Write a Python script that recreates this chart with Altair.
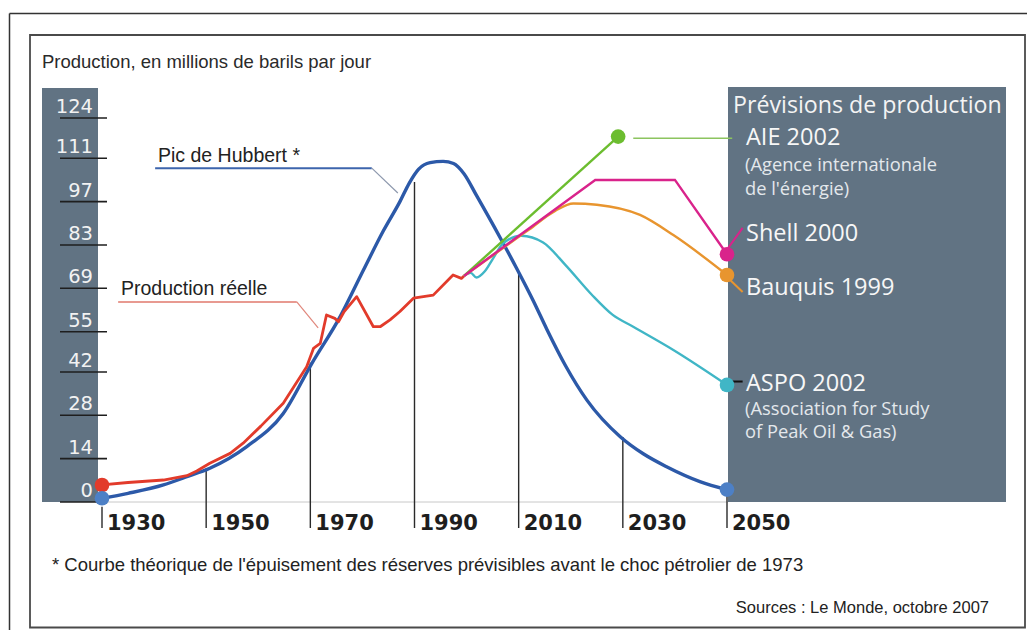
import altair as alt
import pandas as pd

# ---------------- data ----------------
hub_years = [1930, 1935, 1941.8, 1946, 1950.7, 1957.8, 1964.8, 1970.3, 1975.7, 1980.2,
             1984, 1987.2, 1989, 1990.8, 1993, 1995.5, 1997.5, 1999.5, 2001.9, 2006.4,
             2009.6, 2012.8, 2015.4, 2019, 2023.1, 2029.5, 2034, 2038.4, 2044.8, 2050]
hub_values = [1.2, 2.8, 5.5, 8.0, 10.9, 17.9, 28.6, 44.8, 59.8, 74.9,
              87.5, 97.0, 103.0, 107.5, 109.6, 110.0, 109.3, 106.0, 99.0, 85.5,
              75.5, 65.0, 55.8, 44.0, 32.9, 21.1, 15.5, 11.4, 6.6, 4.0]

real_years = [1930, 1935, 1941.8, 1946.3, 1948.2, 1950.7, 1954.6, 1957.1, 1960.5, 1964.8,
              1969.3, 1970.6, 1971.9, 1973.1, 1974.7, 1975.4, 1976.5, 1978.9, 1982.1, 1983.4,
              1985.3, 1987.2, 1989.8, 1993.6, 1997.4, 1999.0, 1999.5]
real_values = [5.5, 6.3, 7.1, 8.5, 10.0, 12.5, 15.7, 19.0, 24.5, 31.9,
               43.7, 49.6, 51.2, 60.4, 59.3, 58.2, 61.5, 66.3, 56.6, 56.6,
               58.8, 61.5, 65.8, 66.8, 73.3, 72.2, 73.0]

aie_years = [1999.5, 2029.1]
aie_values = [73.0, 118.0]
shell_years = [1999.5, 2024.7, 2040.0, 2050.0]
shell_values = [73.0, 104.0, 104.0, 80.0]
bauquis_years = [1999.5, 2012, 2017, 2020.5, 2025, 2033.3, 2039.7, 2050]
bauquis_values = [73.0, 88.0, 94.0, 96.4, 96.0, 92.7, 86.2, 73.3]
aspo_years = [1999.5, 2000.8, 2001.9, 2003.5, 2005.1, 2007, 2010.5, 2014.7, 2019, 2024,
              2028, 2032, 2039.7, 2050]
aspo_values = [73.0, 74.0, 72.5, 74.5, 78.7, 83.5, 86.0, 83.8, 76.5, 67.0,
               60.5, 56.6, 49.1, 37.8]

y_ticks = [0, 14, 28, 42, 55, 69, 83, 97, 111, 124]
x_ticks = [1930, 1950, 1970, 1990, 2010, 2030, 2050]
x_tick_labels = ["1930", "1950", "1970", "1990", "2010", "2030", "2050"]
x_tick_tops = [-1.5, 10.8, 45.0, 103.3, 74.3, 21.0, 2.9]

dot_series = ["real", "hubbert", "aie", "shell", "bauquis", "aspo", "hubbert_end"]
dot_years = [1930, 1930, 2029.1, 2050, 2050, 2050, 2050]
dot_values = [5.5, 1.2, 118.0, 80.0, 73.3, 37.8, 4.0]

title_text = "Production, en millions de barils par jour"
hubbert_label = "Pic de Hubbert *"
real_label = "Production réelle"
panel_title = "Prévisions de production"
panel_labels_big = ["AIE 2002", "Shell 2000", "Bauquis 1999", "ASPO 2002"]
panel_labels_small = ["(Agence internationale", "de l'énergie)",
                      "(Association for Study", "of Peak Oil & Gas)"]
footnote = "* Courbe théorique de l'épuisement des réserves prévisibles avant le choc pétrolier de 1973"
source = "Sources : Le Monde, octobre 2007"

# annotation leader lines (year/value coordinates)
leader_names = ["hub_h", "hub_d", "real_h", "real_d", "aie", "shell", "bauquis", "aspo"]
leader_x = [1940.2, 1981.8, 1933.1, 1967.4, 2032.0, 2050.2, 2050.6, 2051.0]
leader_x2 = [1981.8, 1986.8, 1967.4, 1971.5, 2051.0, 2053.0, 2053.0, 2053.0]
leader_y = [107.8, 107.8, 64.6, 64.6, 117.5, 82.0, 71.7, 38.9]
leader_y2 = [107.8, 99.8, 64.6, 56.2, 117.5, 88.5, 67.8, 38.9]

# ---------------- styling ----------------
W, H = 1019, 622
PANEL = "#617383"
BLUE = "#2c59a8"
BLUE_DOT = "#4d80c6"
RED = "#e23b2b"
GREEN = "#6cbd2f"
MAGENTA = "#d9238b"
ORANGE = "#e8952f"
TEAL = "#40b6c6"

leader_colors = ["#3d65ad", "#8d98ad", "#e0786c", "#e0877c", "#8cc45f", MAGENTA, ORANGE, "#111111"]
leader_widths = [2, 1.2, 1.4, 1.2, 1.5, 2, 2, 2]

xs = alt.Scale(domain=[1930, 2050], range=[94, 719], nice=False, zero=False)
ys = alt.Scale(domain=[0, 124], range=[494, 110], nice=False, zero=False)


def X(field):
    return alt.X(field, type="quantitative", scale=xs, axis=None)


def Y(field):
    return alt.Y(field, type="quantitative", scale=ys, axis=None)


one = pd.DataFrame({"k": [0]})


def box(x, x2, y, y2, **kw):
    return alt.Chart(one).mark_rect(**kw).encode(
        x=alt.value(x), x2=alt.value(x2), y=alt.value(y), y2=alt.value(y2))


def hline(x, x2, y, color, width):
    return alt.Chart(one).mark_rule(color=color, strokeWidth=width).encode(
        x=alt.value(x), x2=alt.value(x2), y=alt.value(y), y2=alt.value(y))


def vline(x, y, y2, color, width):
    return alt.Chart(one).mark_rule(color=color, strokeWidth=width).encode(
        x=alt.value(x), x2=alt.value(x), y=alt.value(y), y2=alt.value(y2))


def label(text, x, y, size, color="#222", font="Liberation Sans", weight="normal",
          align="left"):
    return alt.Chart(pd.DataFrame({"t": [text]})).mark_text(
        align=align, baseline="alphabetic", font=font, fontSize=size,
        fontWeight=weight, color=color).encode(
        x=alt.value(x), y=alt.value(y), text="t:N")


layers = []

# frames
layers.append(vline(1.5, 5.5, H, "#333", 1.5))
layers.append(hline(1.5, W, 5.5, "#333", 1.5))
layers.append(box(22, 1017, 27, 619.5, fillOpacity=0, stroke="#4a4a4a", strokeWidth=1.8))

# grey panels
layers.append(box(34, 90, 80, 494, color=PANEL))
layers.append(box(720, 998, 79, 494, color=PANEL))

# axis baseline
layers.append(hline(90, 720, 494, "#c8c8c8", 1))

# y ticks
yt = pd.DataFrame({"v": y_ticks, "lab": [str(v) for v in y_ticks]})
layers.append(alt.Chart(yt).mark_rule(color="#1e1e1e", strokeWidth=1.6).encode(
    y=Y("v"), x=alt.value(52), x2=alt.value(99)))
layers.append(alt.Chart(yt).mark_text(
    align="right", baseline="alphabetic", dy=-5, font="DejaVu Sans", fontSize=19.5,
    color="#f2f2f2").encode(y=Y("v"), x=alt.value(85), text="lab:N"))

# x ticks: drop lines from the Hubbert curve + labels
xt = pd.DataFrame({"yr": x_ticks, "top": x_tick_tops, "lab": x_tick_labels})
layers.append(alt.Chart(xt).mark_rule(color="#2a2a2a", strokeWidth=1.4).encode(
    x=X("yr"), y=Y("top"), y2=alt.value(520)))
layers.append(alt.Chart(xt).mark_text(
    align="left", baseline="alphabetic", dx=5, font="DejaVu Sans", fontWeight="bold",
    fontSize=21, color="#1e1e1e").encode(x=X("yr"), y=alt.value(522), text="lab:N"))

# curves
hub = pd.DataFrame({"yr": hub_years, "v": hub_values})
real = pd.DataFrame({"yr": real_years, "v": real_values})
layers.append(alt.Chart(hub).mark_line(color=BLUE, strokeWidth=3.4,
                                       interpolate="monotone").encode(x=X("yr"), y=Y("v")))
layers.append(alt.Chart(real).mark_line(color=RED, strokeWidth=2.8,
                                        strokeJoin="round").encode(x=X("yr"), y=Y("v")))

for yrs, vals, col, interp in [
    (aspo_years, aspo_values, TEAL, "monotone"),
    (bauquis_years, bauquis_values, ORANGE, "monotone"),
    (aie_years, aie_values, GREEN, "linear"),
    (shell_years, shell_values, MAGENTA, "linear"),
]:
    d = pd.DataFrame({"yr": yrs, "v": vals})
    layers.append(alt.Chart(d).mark_line(color=col, strokeWidth=2.4,
                                         interpolate=interp).encode(x=X("yr"), y=Y("v")))

# leader lines
for i in range(len(leader_names)):
    d = pd.DataFrame({"x": [leader_x[i]], "x2": [leader_x2[i]],
                      "y": [leader_y[i]], "y2": [leader_y2[i]]})
    layers.append(alt.Chart(d).mark_rule(color=leader_colors[i],
                                         strokeWidth=leader_widths[i]).encode(
        x=X("x"), x2="x2:Q", y=Y("y"), y2="y2:Q"))

# dots
dot_colors = [RED, BLUE_DOT, GREEN, MAGENTA, ORANGE, TEAL, BLUE_DOT]
dots = pd.DataFrame({"s": dot_series, "yr": dot_years, "v": dot_values})
layers.append(alt.Chart(dots).mark_circle(size=215, opacity=1).encode(
    x=X("yr"), y=Y("v"),
    color=alt.Color("s:N", scale=alt.Scale(domain=dot_series, range=dot_colors),
                    legend=None)))

# texts
layers.append(label(title_text, 34, 60, 18.5, color="#2a2a2a"))
layers.append(label(hubbert_label, 150, 154, 19.5, color="#222"))
layers.append(label(real_label, 113, 287, 19.5, color="#222"))
layers.append(label(footnote, 44, 563, 18.5, color="#222"))
layers.append(label(source, 981, 605, 16.5, color="#222", align="right"))

PF = "Open Sans"
layers.append(label(panel_title, 725, 105, 23.2, color="#f4f4f4", font=PF))
big_y = [137, 233, 287, 383]
for t, yy in zip(panel_labels_big, big_y):
    layers.append(label(t, 738, yy, 23.5, color="#f7f7f7", font=PF))
small_y = [163, 187, 407, 430]
for t, yy in zip(panel_labels_small, small_y):
    layers.append(label(t, 737, yy, 18.3, color="#e4e8ec", font=PF))

chart = alt.layer(*layers).properties(
    width=W, height=H, padding=0, background="white",
    autosize=alt.AutoSizeParams(type="none"),
).configure_view(strokeWidth=0)

chart.save("out.html", embed_options={"renderer": "svg", "actions": False})
